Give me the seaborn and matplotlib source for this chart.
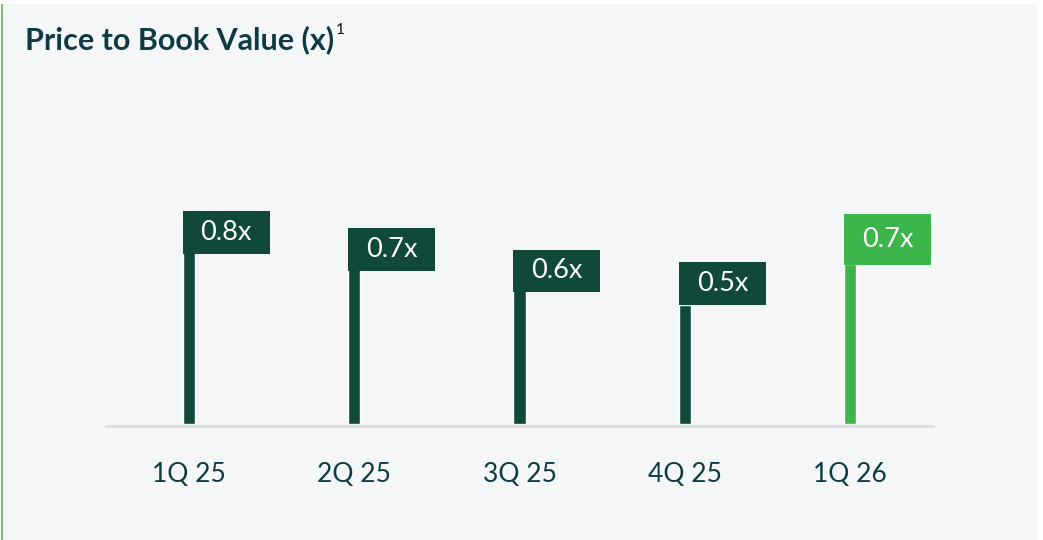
import matplotlib
matplotlib.use("Agg")
import matplotlib.pyplot as plt
from matplotlib.patches import Rectangle
import seaborn as sns
import pandas as pd

# ---- data ----
categories = ["1Q 25", "2Q 25", "3Q 25", "4Q 25", "1Q 26"]
values = [0.80, 0.74, 0.63, 0.52, 0.70]
labels = ["0.8x", "0.7x", "0.6x", "0.5x", "0.7x"]

# ---- style ----
DARK = "#10483a"
BRIGHT = "#3cb54a"
colors = [DARK, DARK, DARK, DARK, BRIGHT]
BG = "#f5f6f8"
TEXT = "#0e3b43"
box_offsets = [-0.056, -0.070, -0.053, 0.0, -0.005]   # box bottom relative to bar top
box_heights = [0.188, 0.188, 0.184, 0.188, 0.223]

sns.set_theme(style="white")
plt.rcParams["font.family"] = ["Lato", "DejaVu Sans"]

W, H = 1043, 540
fig = plt.figure(figsize=(W / 100, H / 100), dpi=100, facecolor="white")

# panel background and left accent line
fig.patches.append(Rectangle((2 / W, 0), (1037 - 2) / W, (H - 4) / H,
                             transform=fig.transFigure, facecolor=BG,
                             edgecolor="none", zorder=-10))
fig.patches.append(Rectangle((0.5 / W, 0), 2 / W, (H - 4) / H,
                             transform=fig.transFigure, facecolor="#7cc06a",
                             edgecolor="none", zorder=-9))

ax = fig.add_axes([106 / W, (H - 424) / H, 827 / W, 229 / H])
ax.set_facecolor("none")

df = pd.DataFrame({"cat": categories, "val": values})
sns.barplot(data=df, x="cat", y="val", hue="cat", palette=colors,
            width=0.073, legend=False, ax=ax, saturation=1, zorder=3)

ax.set_xlim(-0.5, 4.5)
ax.set_ylim(0, 1)
for s in ax.spines.values():
    s.set_visible(False)
ax.set_yticks([])
ax.set_xlabel("")
ax.set_ylabel("")
ax.axhline(-0.007, color="#dedfe1", lw=2.2, zorder=1, clip_on=False)

bar_w = 0.073
box_w = 0.526
for i, (v, lab, c, off, bh) in enumerate(zip(values, labels, colors, box_offsets, box_heights)):
    x0 = i - bar_w / 2
    y0 = v + off
    ax.add_patch(Rectangle((x0, y0), box_w, bh, facecolor=c, edgecolor="none",
                           zorder=4, clip_on=False))
    ax.text(x0 + box_w / 2, y0 + bh / 2, lab, ha="center", va="center",
            color="white", fontsize=19.5, fontweight="normal", zorder=5)

ax.tick_params(axis="x", length=0, pad=27, labelsize=19, labelcolor=TEXT)
for t in ax.get_xticklabels():
    t.set_fontweight("normal")

title = fig.text(25 / W, 1 - 49 / H, "Price to Book Value (x)", ha="left", va="baseline",
                 fontsize=22, fontweight="bold", color=TEXT)
fig.canvas.draw()
bb = title.get_window_extent(renderer=fig.canvas.get_renderer())
fig.text((bb.x1 + 2) / W, 1 - 34 / H, "1", ha="left", va="baseline",
         fontsize=11, color="#111111")

fig.savefig("out.png", dpi=100, facecolor="white")
